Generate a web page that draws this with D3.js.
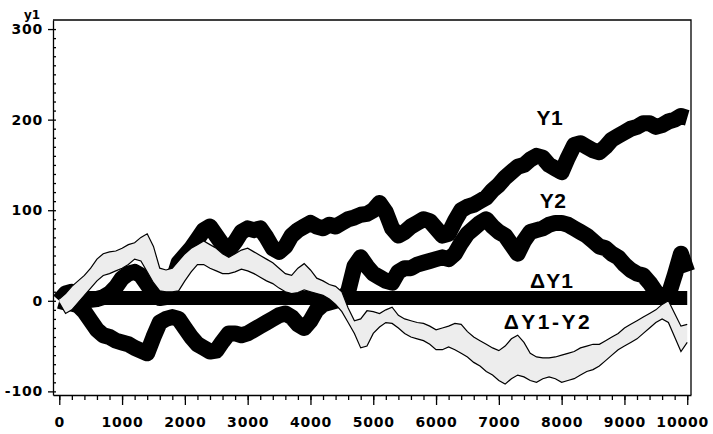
<!DOCTYPE html>
<html>
<head>
<meta charset="utf-8">
<script src="https://cdn.jsdelivr.net/npm/d3@7.9.0/dist/d3.min.js"></script>
<style>
  html, body { margin: 0; padding: 0; background: #fff; }
  svg { display: block; }
  .axis .tick text { font-family: "DejaVu Sans", sans-serif; font-weight: bold; font-size: 14px; letter-spacing: 0.8px; fill: #000; }
  .axis path, .axis line { stroke: #000; stroke-width: 1.3; }
  .series-label { font-family: "Liberation Sans", Arial, sans-serif; font-weight: bold; font-size: 21px; fill: #000; }
</style>
</head>
<body>
<svg id="chart" width="713" height="434"></svg>
<script>
// time steps (every 100) for the walks, and coarser steps for the flat ΔY1 line
const steps = d3.range(0, 10001, 100);
const deltaSteps = d3.range(0, 10001, 500);

const y1Values = [
  0, 8, 10, 5, 2, 1, 2, 4, 8, 15,
  25, 30, 32, 28, 18, 8, 3, 4, 20, 42,
  50, 58, 68, 78, 82, 72, 62, 56, 65, 76,
  80, 78, 80, 70, 58, 54, 60, 72, 78, 82,
  86, 82, 80, 84, 82, 86, 90, 92, 95, 96,
  100, 108, 98, 80, 72, 76, 82, 86, 90, 88,
  80, 72, 74, 88, 100, 104, 106, 110, 114, 122,
  128, 136, 142, 148, 150, 156, 160, 158, 150, 146,
  142, 158, 172, 174, 170, 166, 164, 170, 178, 182,
  186, 190, 192, 196, 196, 192, 194, 198, 200, 204,
  202
];

const y2Values = [
  0, -2, -3, -5, -12, -22, -32, -38, -40, -44,
  -46, -48, -52, -55, -58, -40, -24, -20, -18, -20,
  -30, -40, -48, -52, -56, -55, -45, -36, -36, -38,
  -36, -32, -28, -24, -20, -16, -14, -18, -26, -30,
  -22, -10, -4, -2, 0, 2, 10, 38, 48, 38,
  30, 26, 22, 20, 32, 36, 36, 40, 42, 44,
  46, 48, 46, 52, 64, 74, 80, 86, 90, 82,
  76, 72, 62, 52, 66, 76, 78, 80, 84, 86,
  86, 84, 80, 76, 72, 66, 60, 58, 52, 48,
  40, 34, 30, 28, 20, 10, 4, 6, 28, 52,
  32
];

const deltaY1Values = [2, 3, 3, 3, 3, 3, 3, 3, 3, 3, 3, 3, 3, 3, 3, 3, 3, 3, 3, 3, 3];

// ΔY1-Y2 is drawn as a light band between two thin edge lines
const bandUpper = [
  2, 8, 16, 22, 28, 36, 46, 52, 54, 55,
  58, 62, 64, 70, 74, 60, 36, 34, 36, 44,
  52, 58, 62, 66, 62, 58, 52, 48, 52, 56,
  58, 54, 50, 46, 42, 36, 30, 28, 36, 41,
  34, 25, 22, 18, 16, 10, -8, -22, -20, -11,
  -12, -14, -10, -7, -16, -20, -22, -24, -25, -28,
  -32, -30, -28, -25, -26, -34, -40, -44, -48, -52,
  -55, -50, -42, -38, -46, -58, -62, -63, -63, -62,
  -60, -58, -56, -52, -50, -48, -48, -44, -40, -36,
  -30, -26, -22, -18, -14, -10, -4, 0, -14, -28,
  -26
];

const bandLower = [
  -2, -14, -10, -2, 6, 14, 22, 28, 30, 33,
  36, 40, 46, 44, 32, 20, 11, 10, 10, 11,
  22, 32, 40, 40, 36, 33, 30, 30, 32, 35,
  33, 30, 26, 22, 19, 14, 10, 8, 9, 12,
  10, 8, 6, 2, -4, -12, -24, -36, -52, -50,
  -36, -29, -24, -25, -30, -36, -40, -42, -44, -48,
  -54, -54, -51, -54, -58, -62, -68, -72, -78, -82,
  -88, -92, -86, -82, -84, -88, -90, -86, -84, -86,
  -90, -88, -86, -82, -78, -76, -72, -66, -60, -54,
  -50, -46, -42, -36, -30, -24, -20, -24, -40, -56,
  -46
];

const xTicks = [0, 1000, 2000, 3000, 4000, 5000, 6000, 7000, 8000, 9000, 10000];
const yTicks = [-100, 0, 100, 200, 300];

const seriesLabels = [
  { text: "Y1", t: 7814, v: 202, spacing: 0.5 },
  { text: "Y2", t: 7862, v: 111, spacing: 0.5 },
  { text: "\u0394Y1", t: 7846, v: 22, spacing: 1 },
  { text: "\u0394Y1-Y2", t: 7782, v: -23, spacing: 2.5 },
];

const svg = d3.select("#chart");

const x = d3.scaleLinear().domain([-100, 10060]).range([53, 691]);
const y = d3.scaleLinear().domain([-104, 310]).range([395, 20]);

const [plotLeft, plotRight] = x.range();
const [plotBottom, plotTop] = y.range();

// top and right frame
svg.append("path")
  .attr("d", `M${plotLeft},${plotTop}H${plotRight}V${plotBottom}`)
  .attr("fill", "none")
  .attr("stroke", "#000")
  .attr("stroke-width", 1.3);

// x axis: minor ticks every 200, major every 1000
svg.append("g")
  .attr("class", "axis")
  .attr("transform", `translate(0,${plotBottom})`)
  .call(d3.axisBottom(x).tickValues(d3.range(0, 10001, 200)).tickSize(5).tickSizeOuter(0).tickFormat(""))
  .call((g) => g.select(".domain").remove());

svg.append("g")
  .attr("class", "axis")
  .attr("transform", `translate(0,${plotBottom})`)
  .call(d3.axisBottom(x).tickValues(xTicks).tickSize(10).tickPadding(12).tickSizeOuter(0).tickFormat((d) => String(d)))
  .call((g) => g.selectAll(".tick text").filter((d) => d === 10000).attr("dx", -5));

// y axis: dense minor ticks inside, major ticks outside
svg.append("g")
  .attr("class", "axis")
  .attr("transform", `translate(${plotLeft},0)`)
  .call(d3.axisRight(y).tickValues(d3.range(-100, 301, 10)).tickSize(3).tickSizeOuter(0).tickFormat(""))
  .call((g) => g.select(".domain").remove());

svg.append("g")
  .attr("class", "axis")
  .attr("transform", `translate(${plotLeft},0)`)
  .call(d3.axisLeft(y).tickValues(yTicks).tickSize(5).tickPadding(5).tickSizeOuter(0).tickFormat((d) => String(d)));

svg.append("text")
  .attr("x", 32)
  .attr("y", 19)
  .attr("text-anchor", "middle")
  .attr("font-family", "DejaVu Sans, sans-serif")
  .attr("font-weight", "bold")
  .attr("font-size", 12)
  .text("y1");

const line = d3.line()
  .x((d) => x(d[0]))
  .y((d) => y(d[1]));

function thick(ts, vals, w) {
  svg.append("path")
    .attr("d", line(ts.map((t, i) => [t, vals[i]])))
    .attr("fill", "none")
    .attr("stroke", "#000")
    .attr("stroke-width", w)
    .attr("stroke-linejoin", "round")
    .attr("stroke-linecap", "butt");
}

thick(deltaSteps, deltaY1Values, 14);
thick(steps, y2Values, 16);
thick(steps, y1Values, 16);

// ΔY1-Y2 band on top
const area = d3.area()
  .x((d, i) => x(steps[i]))
  .y0((d, i) => y(bandLower[i]))
  .y1((d, i) => y(bandUpper[i]));

svg.append("path")
  .attr("d", area(steps))
  .attr("fill", "#ededed");

[bandUpper, bandLower].forEach((vals) => {
  svg.append("path")
    .attr("d", line(steps.map((t, i) => [t, vals[i]])))
    .attr("fill", "none")
    .attr("stroke", "#000")
    .attr("stroke-width", 1.2);
});

seriesLabels.forEach((d) => {
  svg.append("text")
    .attr("class", "series-label")
    .attr("x", x(d.t))
    .attr("y", y(d.v))
    .attr("text-anchor", "middle")
    .attr("dominant-baseline", "central")
    .attr("letter-spacing", d.spacing)
    .text(d.text);
});
</script>
</body>
</html>
